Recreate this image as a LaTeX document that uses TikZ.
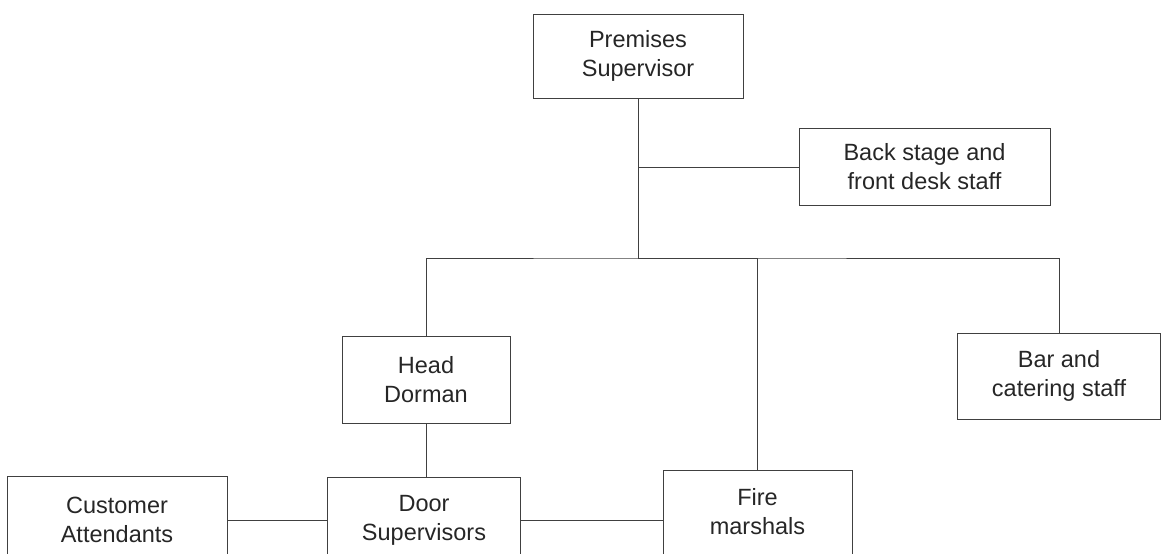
\documentclass[tikz,border=0pt]{standalone}
\usepackage{fontspec}
\setmainfont{Liberation Sans}

\begin{document}
\begin{tikzpicture}[x=1pt, y=-1pt,
  box/.style={draw=black!75, line width=0.9pt, align=center, inner sep=0pt, text=black!85, font=\fontsize{23.5}{29}\selectfont},
  link/.style={draw=black!75, line width=0.9pt}]
\useasboundingbox (0,0) rectangle (1162,554);
\clip (0,0) rectangle (1162,554);
\node[box, minimum width=210pt, minimum height=84pt] (prem) at (638,56) {Premises\\Supervisor};
\node[box, minimum width=251pt, minimum height=77pt] (backstage) at (924.5,167) {Back stage and\\front desk staff};
\node[box, minimum width=168pt, minimum height=87pt] (head) at (426,379.5) {Head\\Dorman};
\node[box, minimum width=203pt, minimum height=86pt] (bar) at (1059,376) {Bar and\\catering staff};
\node[box, minimum width=220pt, minimum height=88pt] (cust) at (117,520) {Customer\\Attendants};
\node[box, minimum width=193pt, minimum height=86pt] (door) at (424,520) {Door\\Supervisors};
\node[box, minimum width=189pt, minimum height=100pt, text depth=18pt] (fire) at (757.5,520) {Fire\\marshals};
\coordinate (bus) at (638,258);
\draw[link] (prem) -- (bus);
\draw[link] (prem.south |- backstage.west) -- (backstage.west);
\draw[link] (head.north) |- (bus) -| (bar.north);
\draw[link] (bus) -| (fire.north);
\draw[link] (head) -- (head |- door.north);
\draw[link] (cust.east) -- (door.west);
\draw[link] (door.east) -- (fire.west);
\end{tikzpicture}
\end{document}
